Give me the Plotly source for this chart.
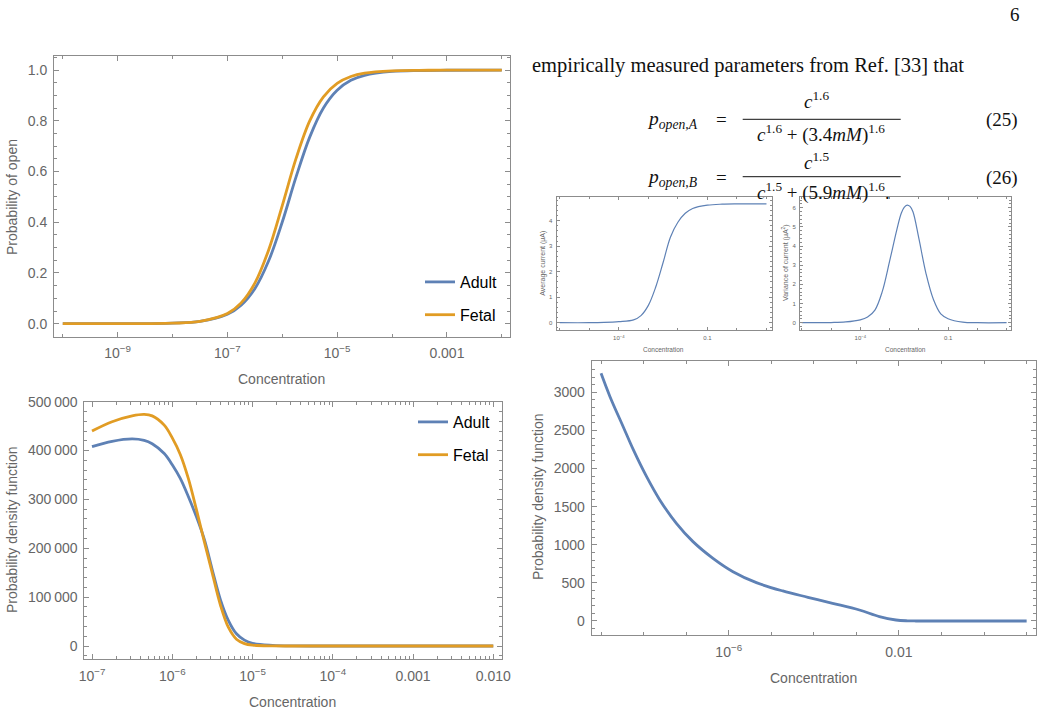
import plotly.graph_objects as go

W, H = 1043, 715
BLUE = '#5E81B5'
ORANGE = '#E19C24'
FRAME = '#8c8c8c'
TICKC = '#666666'
SANS = 'Liberation Sans, Arial, sans-serif'
SERIF = 'Liberation Serif, Times New Roman, serif'

# ---------------- data ----------------
# Panel 1: probability of open vs concentration (log10 of concentration)
open_logc = [-10, -9, -8, -7.5, -7, -6.75, -6.5, -6.25, -6, -5.75, -5.5, -5.25,
             -5, -4.75, -4.5, -4, -3.5, -3, -2]
open_adult = [0.0, 0.0001, 0.0022, 0.009, 0.037, 0.073, 0.138, 0.247, 0.401, 0.578,
              0.736, 0.851, 0.921, 0.960, 0.980, 0.995, 0.9988, 0.9997, 1.0]
open_fetal = [0.0, 0.0001, 0.002, 0.009, 0.040, 0.082, 0.160, 0.290, 0.466, 0.651,
              0.800, 0.895, 0.948, 0.975, 0.988, 0.997, 0.9994, 1.0, 1.0]

# Panel 2: probability density function, adult vs fetal
pdf_logc = [-7, -6.75, -6.5, -6.35, -6.25, -6.1, -6, -5.9, -5.8, -5.7, -5.6, -5.5,
            -5.4, -5.3, -5.2, -5.1, -5, -4.75, -4.5, -4, -3, -2]
pdf_adult = [408000, 419000, 424000, 421000, 414000, 394000, 371000, 343000, 306000,
             265000, 218000, 155000, 95000, 52000, 25000, 12000, 5500, 1500, 300, 0, 0, 0]
pdf_fetal = [440000, 459000, 471000, 474000, 471000, 452000, 426000, 392000, 343000,
             280000, 213000, 148000, 84000, 38000, 14000, 5000, 1800, 300, 50, 0, 0, 0]

# Panel 3: average current (uA)
cur_logc = [-6, -5, -4.5, -4, -3.5, -3.25, -3, -2.75, -2.5, -2.25, -2, -1.75, -1.5,
            -1, -0.5, 0, 1]
cur_mean = [0.0, 0.0, 0.01, 0.04, 0.11, 0.28, 0.68, 1.40, 2.36, 3.36, 3.94, 4.29, 4.48,
            4.61, 4.65, 4.66, 4.66]

# Panel 4: variance of current (uA^2)
var_logc = [-6, -5, -4.5, -4, -3.75, -3.5, -3.25, -3, -2.75, -2.6, -2.5, -2.4, -2.3,
            -2.2, -2, -1.75, -1.5, -1.25, -1, -0.5, 0, 1]
var_cur = [0.0, 0.01, 0.04, 0.15, 0.30, 0.66, 1.62, 3.20, 4.86, 5.71, 6.02, 6.14, 6.07,
           5.79, 4.41, 2.54, 1.21, 0.46, 0.21, 0.03, 0.0, 0.0]

# Panel 5: probability density function
pdf2_logc = [-9, -8.79, -8.48, -8.24, -7.93, -7.62, -7.23, -6.84, -6.37, -5.90, -5.35,
             -4.73, -4.14, -3.56, -2.93, -2.46, -2.07, -1.8, -1.6, -1, 0, 1]
pdf2_val = [3250, 2943, 2549, 2244, 1893, 1588, 1281, 1041, 822, 647, 503,
            394, 311, 232, 144, 57, 13, 2, 0, 0, 0, 0]

# tick labels
p1_xtick_exp = [-9, -7, -5, -3]
p1_xtick_txt = ['10<sup>\u22129</sup>', '10<sup>\u22127</sup>', '10<sup>\u22125</sup>', '0.001']
p1_ytick_val = [0, 0.2, 0.4, 0.6, 0.8, 1.0]
p1_ytick_txt = ['0.0', '0.2', '0.4', '0.6', '0.8', '1.0']
p2_xtick_exp = [-7, -6, -5, -4, -3, -2]
p2_xtick_txt = ['10<sup>\u22127</sup>', '10<sup>\u22126</sup>', '10<sup>\u22125</sup>',
                '10<sup>\u22124</sup>', '0.001', '0.010']
p2_ytick_val = [0, 100000, 200000, 300000, 400000, 500000]
p2_ytick_txt = ['0', '100\u2009000', '200\u2009000', '300\u2009000', '400\u2009000', '500\u2009000']
p3_xtick_exp = [-4, -1]
p3_xtick_txt = ['10<sup>\u22124</sup>', '0.1']
p5_xtick_exp = [-6, -2]
p5_xtick_txt = ['10<sup>\u22126</sup>', '0.01']
p5_ytick_val = [0, 500, 1000, 1500, 2000, 2500, 3000]


def tolin(exps):
    return [10.0 ** e for e in exps]


def px(x):
    return x / W


def py(y):
    return 1 - y / H


def frame_axis(fs=14, tl=5, **kw):
    d = dict(showline=True, linecolor=FRAME, linewidth=1, mirror='allticks',
             ticks='inside', ticklen=tl, tickcolor=FRAME, tickwidth=1,
             showgrid=False, zeroline=False, fixedrange=True, automargin=False,
             tickfont=dict(family=SANS, size=fs, color=TICKC))
    d.update(kw)
    return d


fig = go.Figure()

line_big = dict(width=2.8, shape='spline', smoothing=1.0)
line_small = dict(color=BLUE, width=1.2, shape='spline', smoothing=1.0)
fig.add_trace(go.Scatter(x=tolin(open_logc), y=open_adult, name='Adult', mode='lines',
                         line=dict(color=BLUE, **line_big), xaxis='x', yaxis='y',
                         legend='legend', legendgroup='a1'))
fig.add_trace(go.Scatter(x=tolin(open_logc), y=open_fetal, name='Fetal', mode='lines',
                         line=dict(color=ORANGE, **line_big), xaxis='x', yaxis='y',
                         legend='legend', legendgroup='f1'))
fig.add_trace(go.Scatter(x=tolin(pdf_logc), y=pdf_adult, name='Adult', mode='lines',
                         line=dict(color=BLUE, **line_big), xaxis='x2', yaxis='y2',
                         legend='legend2', legendgroup='a2'))
fig.add_trace(go.Scatter(x=tolin(pdf_logc), y=pdf_fetal, name='Fetal', mode='lines',
                         line=dict(color=ORANGE, **line_big), xaxis='x2', yaxis='y2',
                         legend='legend2', legendgroup='f2'))
fig.add_trace(go.Scatter(x=tolin(cur_logc), y=cur_mean, mode='lines', showlegend=False,
                         line=line_small, xaxis='x3', yaxis='y3'))
fig.add_trace(go.Scatter(x=tolin(var_logc), y=var_cur, mode='lines', showlegend=False,
                         line=line_small, xaxis='x4', yaxis='y4'))
fig.add_trace(go.Scatter(x=tolin(pdf2_logc), y=pdf2_val, mode='lines', showlegend=False,
                         line=dict(color=BLUE, **line_big), xaxis='x5', yaxis='y5'))


def minor_log(lo, hi):
    return [m * 10.0 ** k for k in range(lo, hi) for m in range(2, 10)]


layout = dict(
    width=W, height=H, margin=dict(l=0, r=0, t=0, b=0, autoexpand=False),
    paper_bgcolor='white', plot_bgcolor='white',
    showlegend=True,
    # panel 1
    xaxis=frame_axis(type='log', range=[-10.16, -1.85], domain=[px(54), px(510)], anchor='y',
                     tickmode='array', tickvals=tolin(p1_xtick_exp), ticktext=p1_xtick_txt,
                     minor=dict(ticks='inside', ticklen=3, tickcolor=FRAME,
                                tickvals=tolin([-10, -8, -6, -4, -2])),
                     ticklabelstandoff=3),
    yaxis=frame_axis(range=[-0.0525, 1.056], domain=[py(337), py(56)], anchor='x',
                     tickmode='array', tickvals=p1_ytick_val, ticktext=p1_ytick_txt,
                     minor=dict(ticks='inside', ticklen=3, tickcolor=FRAME, dtick=0.05, tick0=0),
                     ticklabelstandoff=3),
    # panel 2
    xaxis2=frame_axis(type='log', range=[-7.096, -1.895], domain=[px(84.3), px(501.7)], anchor='y2',
                      tickmode='array', tickvals=tolin(p2_xtick_exp), ticktext=p2_xtick_txt,
                      minor=dict(ticks='inside', ticklen=3, tickcolor=FRAME,
                                 tickvals=minor_log(-7, -2)),
                      ticklabelstandoff=4),
    yaxis2=frame_axis(range=[-27200, 500000], domain=[py(659.3), py(401.7)], anchor='x2',
                      tickmode='array', tickvals=p2_ytick_val, ticktext=p2_ytick_txt,
                      minor=dict(ticks='inside', ticklen=3, tickcolor=FRAME, dtick=20000, tick0=0),
                      ticklabelstandoff=3),
    # panel 3
    xaxis3=frame_axis(fs=6, tl=3, type='log', range=[-6.11, 1.17], domain=[px(556.5), px(771.5)],
                      anchor='y3', tickmode='array', tickvals=tolin(p3_xtick_exp),
                      ticktext=p3_xtick_txt,
                      minor=dict(ticks='inside', ticklen=2, tickcolor=FRAME,
                                 tickvals=tolin([-6, -5, -3, -2, 0, 1])),
                      ticklabelstandoff=2),
    yaxis3=frame_axis(fs=6, tl=3, range=[-0.286, 4.93], domain=[py(330), py(197)], anchor='x3',
                      tickmode='array', tickvals=[0, 1, 2, 3, 4],
                      minor=dict(ticks='inside', ticklen=1.5, tickcolor=FRAME, dtick=0.2, tick0=0),
                      ticklabelstandoff=2),
    # panel 4
    xaxis4=frame_axis(fs=6, tl=3, type='log', range=[-6.06, 1.14], domain=[px(800), px(1010.7)],
                      anchor='y4', tickmode='array', tickvals=tolin(p3_xtick_exp),
                      ticktext=p3_xtick_txt,
                      minor=dict(ticks='inside', ticklen=2, tickcolor=FRAME,
                                 tickvals=tolin([-6, -5, -3, -2, 0, 1])),
                      ticklabelstandoff=2),
    yaxis4=frame_axis(fs=6, tl=3, range=[-0.38, 6.56], domain=[py(330), py(197)], anchor='x4',
                      tickmode='array', tickvals=[0, 1, 2, 3, 4, 5, 6],
                      minor=dict(ticks='inside', ticklen=1.5, tickcolor=FRAME, dtick=0.2, tick0=0),
                      ticklabelstandoff=2),
    # panel 5
    xaxis5=frame_axis(type='log', range=[-9.22, 1.22], domain=[px(591.7), px(1036)], anchor='y5',
                      tickmode='array', tickvals=tolin(p5_xtick_exp), ticktext=p5_xtick_txt,
                      minor=dict(ticks='inside', ticklen=3, tickcolor=FRAME,
                                 tickvals=tolin([-9, -8, -7, -5, -4, -3, -1, 0, 1])),
                      ticklabelstandoff=4),
    yaxis5=frame_axis(range=[-184, 3411], domain=[py(635), py(361)], anchor='x5',
                      tickmode='array', tickvals=p5_ytick_val,
                      minor=dict(ticks='inside', ticklen=3, tickcolor=FRAME, dtick=100, tick0=0),
                      ticklabelstandoff=3),
    legend=dict(x=px(420), y=py(265), xanchor='left', yanchor='top',
                font=dict(family=SANS, size=16, color='black'), bgcolor='rgba(0,0,0,0)',
                tracegroupgap=9, itemclick=False, itemdoubleclick=False),
    legend2=dict(x=px(413), y=py(405), xanchor='left', yanchor='top',
                 font=dict(family=SANS, size=16, color='black'), bgcolor='rgba(0,0,0,0)',
                 tracegroupgap=9, itemclick=False, itemdoubleclick=False),
)
fig.update_layout(**layout)

ann = []


def text(x, y, s, size=14, color=TICKC, family=SANS, xanchor='center', yanchor='middle', angle=0):
    ann.append(dict(x=px(x), y=py(y), xref='paper', yref='paper', text=s, showarrow=False,
                    font=dict(family=family, size=size, color=color), xanchor=xanchor,
                    yanchor=yanchor, textangle=angle))


# axis titles
text(281.7, 379, 'Concentration')
text(12, 197, 'Probability of open', angle=-90)
text(292.7, 701.7, 'Concentration')
text(12, 530, 'Probability density function', angle=-90)
text(813, 678.3, 'Concentration')
text(538, 497, 'Probability density function', angle=-90)
text(663.5, 349, 'Concentration', size=6.5)
text(542.7, 263, 'Average current (\u03bcA)', size=7, angle=-90)
text(905, 349, 'Concentration', size=6.5)
text(785, 263, 'Variance of current (\u03bcA<sup>2</sup>)', size=7, angle=-90)

# page text
BLACK = '#111111'
text(1015, 15, '6', size=19, color=BLACK, family=SERIF)
text(530, 65, 'empirically measured parameters from Ref. [33] that', size=20.5, color=BLACK,
     family=SERIF, xanchor='left')
# equation (25)
text(700, 120, '<i>p</i><sub><i>open,A</i></sub>', size=19.5, color=BLACK, family=SERIF, xanchor='right')
text(721.5, 119, '=', size=19, color=BLACK, family=SERIF)
text(816, 100, '<i>c</i><sup>1.6</sup>', size=19, color=BLACK, family=SERIF)
text(821, 133, '<i>c</i><sup>1.6</sup> + (3.4<i>mM</i>)<sup>1.6</sup>', size=19, color=BLACK,
     family=SERIF)
text(1020, 120, '(25)', size=19, color=BLACK, family=SERIF, xanchor='right')
# equation (26)
text(700, 178, '<i>p</i><sub><i>open,B</i></sub>', size=19.5, color=BLACK, family=SERIF, xanchor='right')
text(721.5, 177, '=', size=19, color=BLACK, family=SERIF)
text(816, 161, '<i>c</i><sup>1.5</sup>', size=19, color=BLACK, family=SERIF)
text(823, 191, '<i>c</i><sup>1.5</sup> + (5.9<i>mM</i>)<sup>1.6</sup>.', size=19, color=BLACK,
     family=SERIF)
text(1020, 178, '(26)', size=19, color=BLACK, family=SERIF, xanchor='right')

shapes = [
    dict(type='line', xref='paper', yref='paper', x0=px(742.7), x1=px(900.7), y0=py(119.3),
         y1=py(119.3), line=dict(color=BLACK, width=1)),
    dict(type='line', xref='paper', yref='paper', x0=px(742.7), x1=px(900.7), y0=py(176.7),
         y1=py(176.7), line=dict(color=BLACK, width=1)),
]

fig.update_layout(annotations=ann, shapes=shapes)
fig.write_html('out.html', config={'responsive': False, 'displayModeBar': False},
               post_script="document.body.style.margin='0px';"
                           "document.body.style.padding='0px';"
                           "document.body.style.overflow='hidden';")
